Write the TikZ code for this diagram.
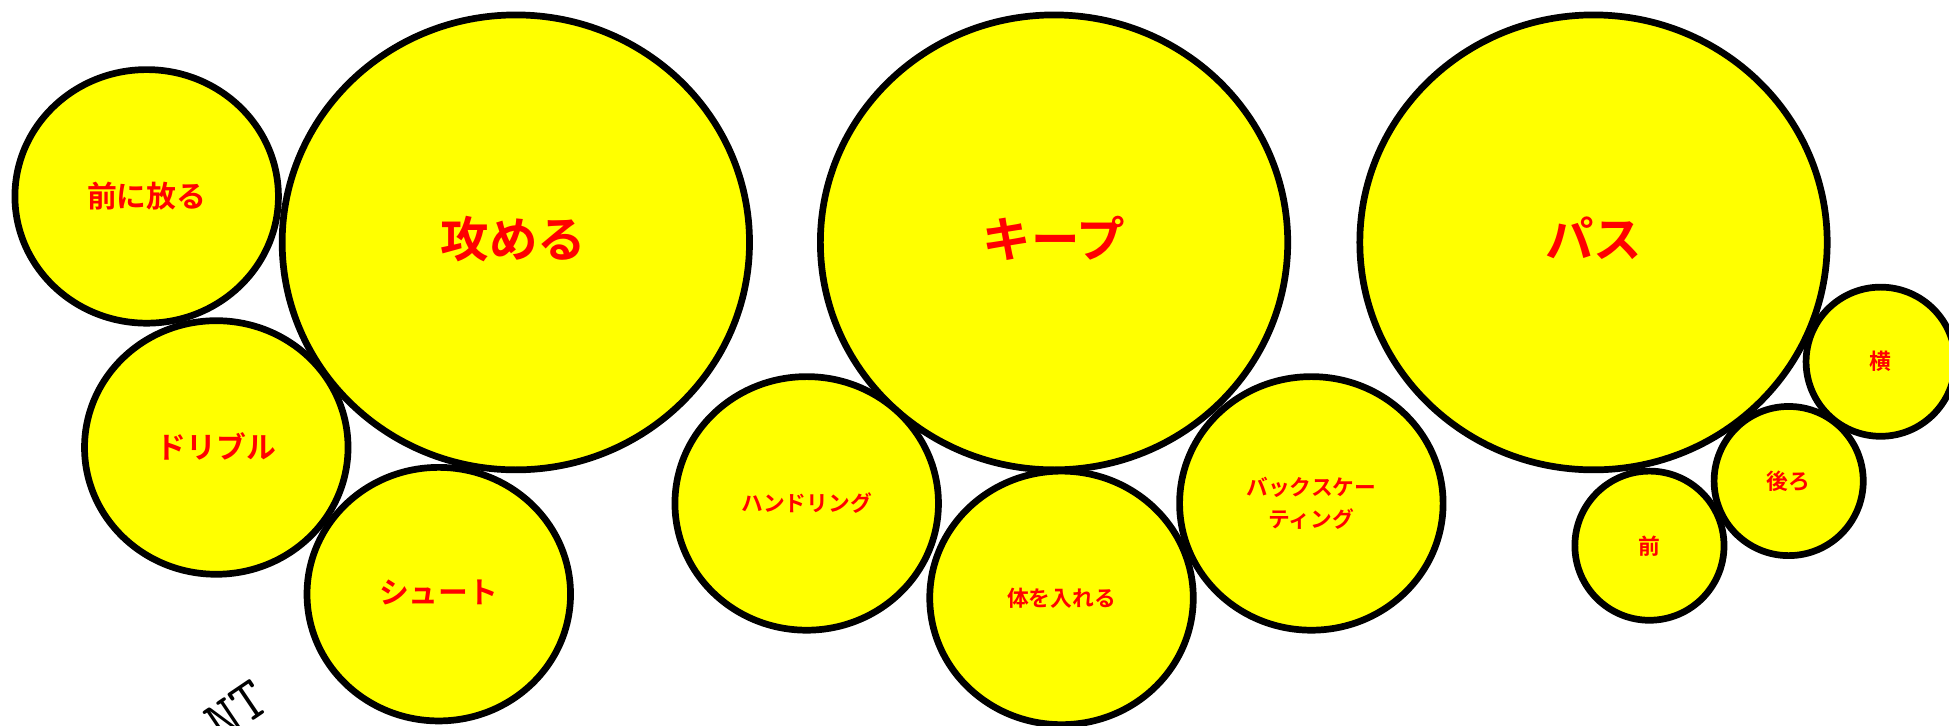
\documentclass[tikz,border=0pt]{standalone}
\usepackage{fontspec}
\newfontfamily\cjk{Noto Sans CJK JP}[BoldFont={Noto Sans CJK JP Bold}]
\definecolor{bubfill}{RGB}{255,255,0}
\definecolor{lblred}{RGB}{255,0,0}
\tikzset{
  bub/.style={draw=black, line width=5.4pt, fill=bubfill},
  lbl/.style={text=lblred, font=\cjk\bfseries, align=center, inner sep=0pt},
  big/.style={lbl, font=\cjk\bfseries\fontsize{39}{44}\selectfont},
  mid/.style={lbl, font=\cjk\bfseries\fontsize{24}{28}\selectfont},
  sml/.style={lbl, font=\cjk\bfseries\fontsize{17.5}{26}\selectfont},
}
\begin{document}
\begin{tikzpicture}[x=1pt,y=-1pt]
\useasboundingbox (0,0) rectangle (1568,584);
% big circles
\draw[bub] (415,195) ellipse [x radius=188, y radius=183];
\draw[bub] (848,195) ellipse [x radius=188, y radius=183];
\draw[bub] (1282,195) ellipse [x radius=188, y radius=183];
% medium circles
\draw[bub] (118,158) ellipse [x radius=106, y radius=102];
\draw[bub] (174,360) ellipse [x radius=106, y radius=102];
\draw[bub] (353,478) ellipse [x radius=106, y radius=102];
\draw[bub] (649,405) ellipse [x radius=106, y radius=102];
\draw[bub] (854,481) ellipse [x radius=106, y radius=102];
\draw[bub] (1055,405) ellipse [x radius=106, y radius=102];
% small circles
\draw[bub] (1513,291) ellipse [x radius=60, y radius=60];
\draw[bub] (1439,387) ellipse [x radius=60, y radius=60];
\draw[bub] (1327,439) ellipse [x radius=60, y radius=60];
% labels
\node[big] (semeru) at (413,192) {攻める};
\node[big] (keep) at (848,192) {キープ};
\node[big] (pass) at (1282,192) {パス};
\node[mid] (maeni) at (118,158) {前に放る};
\node[mid] (dribble) at (174,359) {ドリブル};
\node[mid] (shoot) at (353,477) {シュート};
\node[sml] (handling) at (649,405) {ハンドリング};
\node[sml] (karada) at (854,481) {体を入れる};
\node[sml] (back) at (1055,405) {バックスケー\\ティング};
\node[sml] (yoko) at (1513,291) {横};
\node[sml] (ushiro) at (1439,387) {後ろ};
\node[sml] (mae) at (1327,439) {前};
\node[font=\ttfamily\fontsize{48}{48}\selectfont, rotate=34, anchor=base west, inner sep=0pt] (nt) at (178,598) {NT};
\end{tikzpicture}
\end{document}
